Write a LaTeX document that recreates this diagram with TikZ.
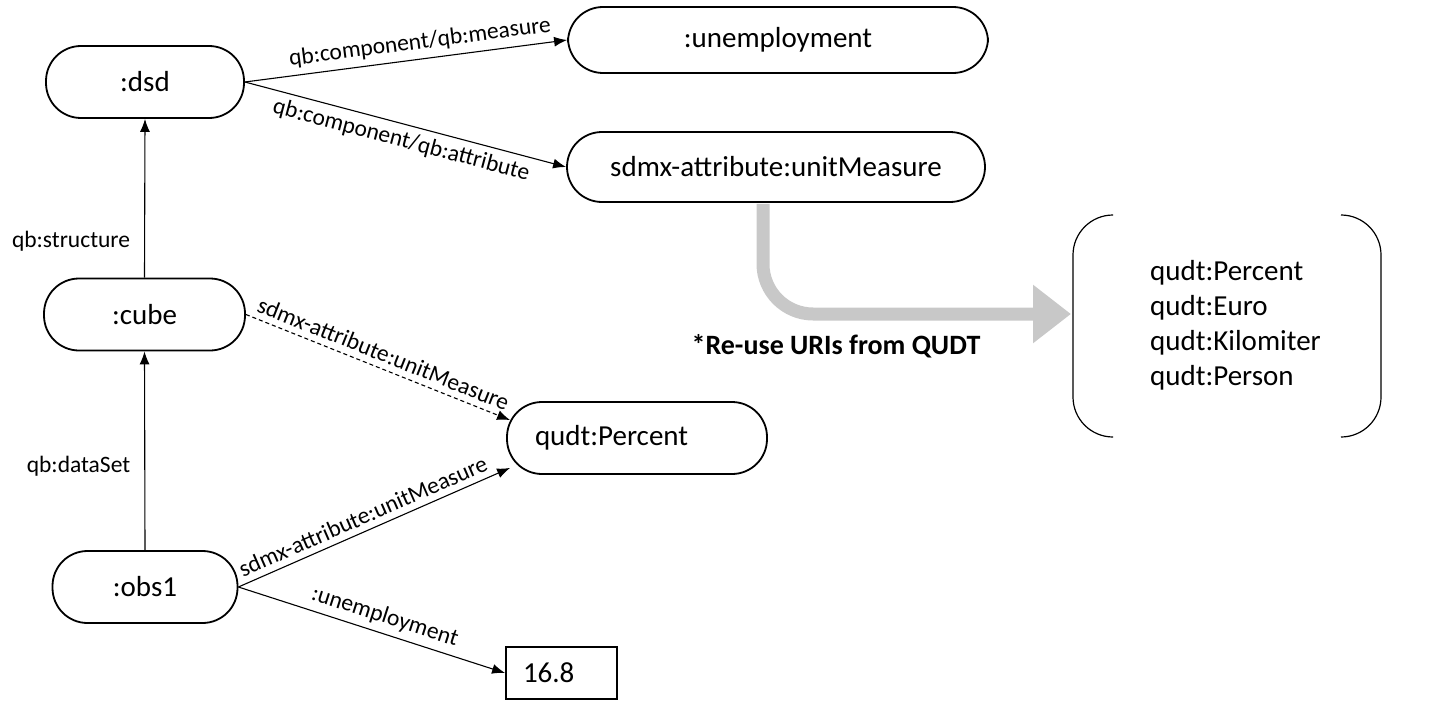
\documentclass[tikz,border=0pt]{standalone}
\usepackage{fontspec}
\setmainfont{Carlito}
\usetikzlibrary{arrows.meta}
\definecolor{arrowgray}{RGB}{200,200,200}
\tikzset{
  pill/.style = {
    draw, line width=1.8pt, rounded corners=35pt,
    minimum height=72pt, inner sep=0pt,
    font=\fontsize{29}{35}\selectfont
  },
  rel/.style = {font=\fontsize{23.5}{28}\selectfont, inner sep=6pt},
  link/.style = {->, line width=1.1pt}
}
\tikzset{>={Latex[length=13pt,width=10pt]}}

\begin{document}
\begin{tikzpicture}[x=1pt,y=-1pt]
  \useasboundingbox (0,0) rectangle (1446,709);
  % resources
  \node[pill, minimum width=198pt] (dsd) at (145,82) {:dsd};
  \node[pill, minimum width=201pt] (cube) at (144.5,314.5) {:cube};
  \node[pill, minimum width=185pt] (obs1) at (145,587) {:obs1};
  \node[pill, minimum width=420pt, minimum height=66pt] (unemp) at (778,40) {:unemployment};
  \node[pill, minimum width=418pt, minimum height=70pt] (unit) at (776,167) {sdmx-attribute:unitMeasure};
  \node[pill, minimum width=260pt, text width=204pt, inner xsep=28pt, align=left] (pct) at (637,438) {qudt:Percent};
  \node[draw, line width=1.8pt, minimum height=52pt, text width=77pt, inner xsep=17pt, align=left,
        font=\fontsize{29}{35}\selectfont] (val) at (561.5,673) {16.8};
  % properties
  \draw[link] (cube.north) -- node[rel, pos=0.23, left=8pt] {qb:structure} (dsd.south);
  \draw[link] (obs1.north) -- node[rel, pos=0.42, left=8pt] {qb:dataSet} (cube.south);
  \draw[link] (dsd.east) -- node[rel, pos=0.55, above, sloped] {qb:component/qb:measure} (unemp.west);
  \draw[link] (dsd.east) -- node[rel, pos=0.5, below, sloped] {qb:component/qb:attribute} (unit.west);
  \draw[link, dash pattern=on 4pt off 3pt] (cube.east) -- node[rel, pos=0.5, above, sloped] {sdmx-attribute:unitMeasure} ([xshift=4pt,yshift=-19pt]pct.north west);
  \draw[link] (obs1.east) -- node[rel, pos=0.48, above, sloped] {sdmx-attribute:unitMeasure} ([xshift=4pt,yshift=7pt]pct.south west);
  \draw[link] (obs1.east) -- node[rel, pos=0.53, above, sloped] {:unemployment} (val.west);
  % units from QUDT
  \node[align=left, anchor=west, inner sep=0pt, font=\fontsize{29}{35}\selectfont] (units) at (1150,325)
    {qudt:Percent\\qudt:Euro\\qudt:Kilomiter\\qudt:Person};
  \draw[line width=1.2pt, rounded corners=40pt] (1112,215) -- (1073,215) -- (1073,437) -- (1112,437);
  \draw[line width=1.2pt, rounded corners=40pt] (1343,215) -- (1381,215) -- (1381,437) -- (1343,437);
  \coordinate (tip) at (1071,314);
  \draw[arrowgray, line width=13pt, rounded corners=50pt, -{Triangle[length=38pt,width=56pt]}]
    ([xshift=-13pt,yshift=-1pt]unit.south) |- (tip);
  \node[font=\bfseries\fontsize{28}{34}\selectfont] (note) at (836,346) {*Re-use URIs from QUDT};
\end{tikzpicture}
\end{document}
